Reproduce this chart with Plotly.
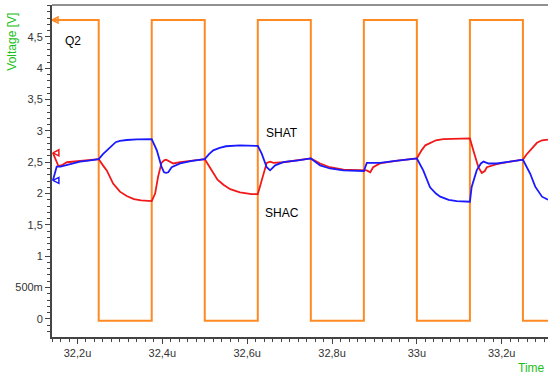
import plotly.graph_objects as go

# ---------------- data ----------------
q2_t = [32.14, 32.25, 32.375, 32.5, 32.625, 32.75, 32.875, 33.0, 33.125, 33.25, 33.31]
q2_v = [4.77, -0.03, 4.77, -0.03, 4.77, -0.03, 4.77, -0.03, 4.77, -0.03, -0.03]

shac_t = [32.142, 32.155, 32.165, 32.175, 32.206, 32.230, 32.250, 32.260, 32.269, 32.284,
          32.300, 32.316, 32.333, 32.350, 32.375, 32.383, 32.390, 32.398, 32.404, 32.409,
          32.414, 32.418, 32.426, 32.442, 32.470, 32.500, 32.510, 32.520, 32.530, 32.544,
          32.560, 32.583, 32.610, 32.625, 32.634, 32.646, 32.654, 32.662, 32.685, 32.720,
          32.750, 32.772, 32.795, 32.827, 32.875, 32.882, 32.890, 32.897, 32.913, 32.950,
          33.000, 33.011, 33.020, 33.031, 33.045, 33.062, 33.125, 33.133, 33.145, 33.153,
          33.160, 33.165, 33.188, 33.220, 33.250, 33.258, 33.267, 33.283, 33.295, 33.309]
shac_v = [2.65, 2.44, 2.46, 2.50, 2.52, 2.53, 2.55, 2.45, 2.37, 2.16,
          2.03, 1.96, 1.91, 1.89, 1.88, 2.00, 2.27, 2.49, 2.53, 2.54,
          2.52, 2.50, 2.48, 2.50, 2.52, 2.55, 2.44, 2.33, 2.22, 2.14,
          2.07, 2.02, 1.99, 1.99, 2.22, 2.49, 2.51, 2.49, 2.50, 2.53,
          2.56, 2.48, 2.42, 2.38, 2.38, 2.37, 2.34, 2.42, 2.48, 2.52,
          2.56, 2.69, 2.77, 2.81, 2.85, 2.87, 2.88, 2.69, 2.42, 2.33,
          2.36, 2.42, 2.47, 2.51, 2.54, 2.62, 2.69, 2.81, 2.85, 2.86]

shat_t = [32.142, 32.151, 32.160, 32.171, 32.190, 32.206, 32.230, 32.250, 32.260, 32.269,
          32.280, 32.290, 32.300, 32.316, 32.340, 32.375, 32.387, 32.398, 32.404, 32.409,
          32.414, 32.422, 32.442, 32.470, 32.500, 32.510, 32.520, 32.535, 32.550, 32.583,
          32.625, 32.634, 32.646, 32.654, 32.666, 32.685, 32.720, 32.750, 32.772, 32.795,
          32.827, 32.850, 32.875, 32.882, 32.897, 32.913, 32.950, 33.000, 33.015, 33.031,
          33.045, 33.055, 33.075, 33.094, 33.125, 33.129, 33.141, 33.151, 33.157, 33.165,
          33.169, 33.188, 33.220, 33.250, 33.267, 33.279, 33.295, 33.309]
shat_v = [2.21, 2.43, 2.43, 2.45, 2.49, 2.51, 2.53, 2.55, 2.63, 2.69,
          2.77, 2.82, 2.84, 2.855, 2.865, 2.87, 2.69, 2.43, 2.34, 2.33,
          2.34, 2.42, 2.48, 2.52, 2.55, 2.63, 2.69, 2.73, 2.755, 2.77,
          2.76, 2.64, 2.42, 2.37, 2.45, 2.50, 2.53, 2.56, 2.45, 2.40,
          2.37, 2.365, 2.36, 2.49, 2.49, 2.49, 2.52, 2.56, 2.37, 2.10,
          2.00, 1.95, 1.90, 1.88, 1.87, 2.10, 2.37, 2.48, 2.51, 2.49,
          2.48, 2.48, 2.51, 2.54, 2.32, 2.11, 1.95, 1.90]

y_ticks = [0, 0.5, 1, 1.5, 2, 2.5, 3, 3.5, 4, 4.5]
y_labels = ["0", "500m", "1", "1,5", "2", "2,5", "3", "3,5", "4", "4,5"]
x_ticks = [32.2, 32.4, 32.6, 32.8, 33.0, 33.2]
x_labels = ["32,2u", "32,4u", "32,6u", "32,8u", "33u", "33,2u"]

ORANGE = "#ff8a24"
RED = "#f01818"
BLUE = "#1a1aff"
GREEN = "#19c019"
FONT = "Liberation Sans, Arial, sans-serif"

fig = go.Figure()
fig.add_trace(go.Scatter(x=q2_t, y=q2_v, mode="lines", line=dict(color=ORANGE, width=2, shape="hv"),
                         showlegend=False, hoverinfo="skip"))
fig.add_trace(go.Scatter(x=shac_t, y=shac_v, mode="lines", line=dict(color=RED, width=1.8),
                         showlegend=False, hoverinfo="skip"))
fig.add_trace(go.Scatter(x=shat_t, y=shat_v, mode="lines", line=dict(color=BLUE, width=1.8),
                         showlegend=False, hoverinfo="skip"))
# start-of-trace cursor markers
fig.add_trace(go.Scatter(x=[q2_t[0], shac_t[0], shat_t[0]], y=[q2_v[0], shac_v[0], shat_v[0]],
                         mode="markers",
                         marker=dict(symbol="arrow-left-open", size=6, color=[ORANGE, RED, BLUE],
                                     line=dict(width=1.5, color=[ORANGE, RED, BLUE])),
                         showlegend=False, hoverinfo="skip", cliponaxis=False))

fig.add_annotation(x=32.189, y=4.43, text="Q2", showarrow=False,
                   font=dict(family=FONT, size=12, color="black"))
fig.add_annotation(x=32.681, y=2.96, text="SHAT", showarrow=False,
                   font=dict(family=FONT, size=12, color="black"))
fig.add_annotation(x=32.681, y=1.69, text="SHAC", showarrow=False,
                   font=dict(family=FONT, size=12, color="black"))
fig.add_annotation(xref="paper", yref="paper", x=-0.081, y=0.889, xanchor="center",
                   yanchor="middle", text="Voltage [V]", textangle=-90, showarrow=False,
                   font=dict(family=FONT, size=12, color=GREEN))
fig.add_annotation(xref="paper", yref="paper", x=0.966, y=-0.093, xanchor="center",
                   yanchor="middle", text="Time", showarrow=False,
                   font=dict(family=FONT, size=12, color=GREEN))

# frame top line
fig.add_shape(type="line", xref="paper", yref="paper", x0=0, x1=1, y0=1, y1=1,
              line=dict(color="#222", width=1))

fig.update_layout(
    width=549, height=374,
    margin=dict(l=52, r=1, t=5, b=37, autoexpand=False),
    paper_bgcolor="white", plot_bgcolor="white",
    font=dict(family=FONT, size=11, color="#333"),
    xaxis=dict(range=[32.1399, 33.3091], tickmode="array", tickvals=x_ticks, ticktext=x_labels,
               automargin=False,
               showgrid=False, zeroline=False, showline=True, linecolor="#444", linewidth=2,
               ticks="outside", ticklen=5, tickcolor="#444", tickfont=dict(size=11, color="#333"),
               minor=dict(tickmode="linear", tick0=32.2, dtick=0.02, ticks="outside", ticklen=3,
                          tickcolor="#444", showgrid=False)),
    yaxis=dict(range=[-0.29, 5.01], tickmode="array", tickvals=y_ticks, ticktext=y_labels,
               automargin=False,
               showgrid=False, zeroline=False, showline=True, linecolor="#444", linewidth=2,
               ticks="outside", ticklen=5, tickcolor="#444", tickfont=dict(size=11, color="#333"),
               minor=dict(tickmode="linear", tick0=0, dtick=0.1, ticks="outside", ticklen=3,
                          tickcolor="#444", showgrid=False)),
)

fig.write_html("out.html", config={"displayModeBar": False},
               post_script="document.body.style.margin='0';document.body.style.overflow='hidden';")
